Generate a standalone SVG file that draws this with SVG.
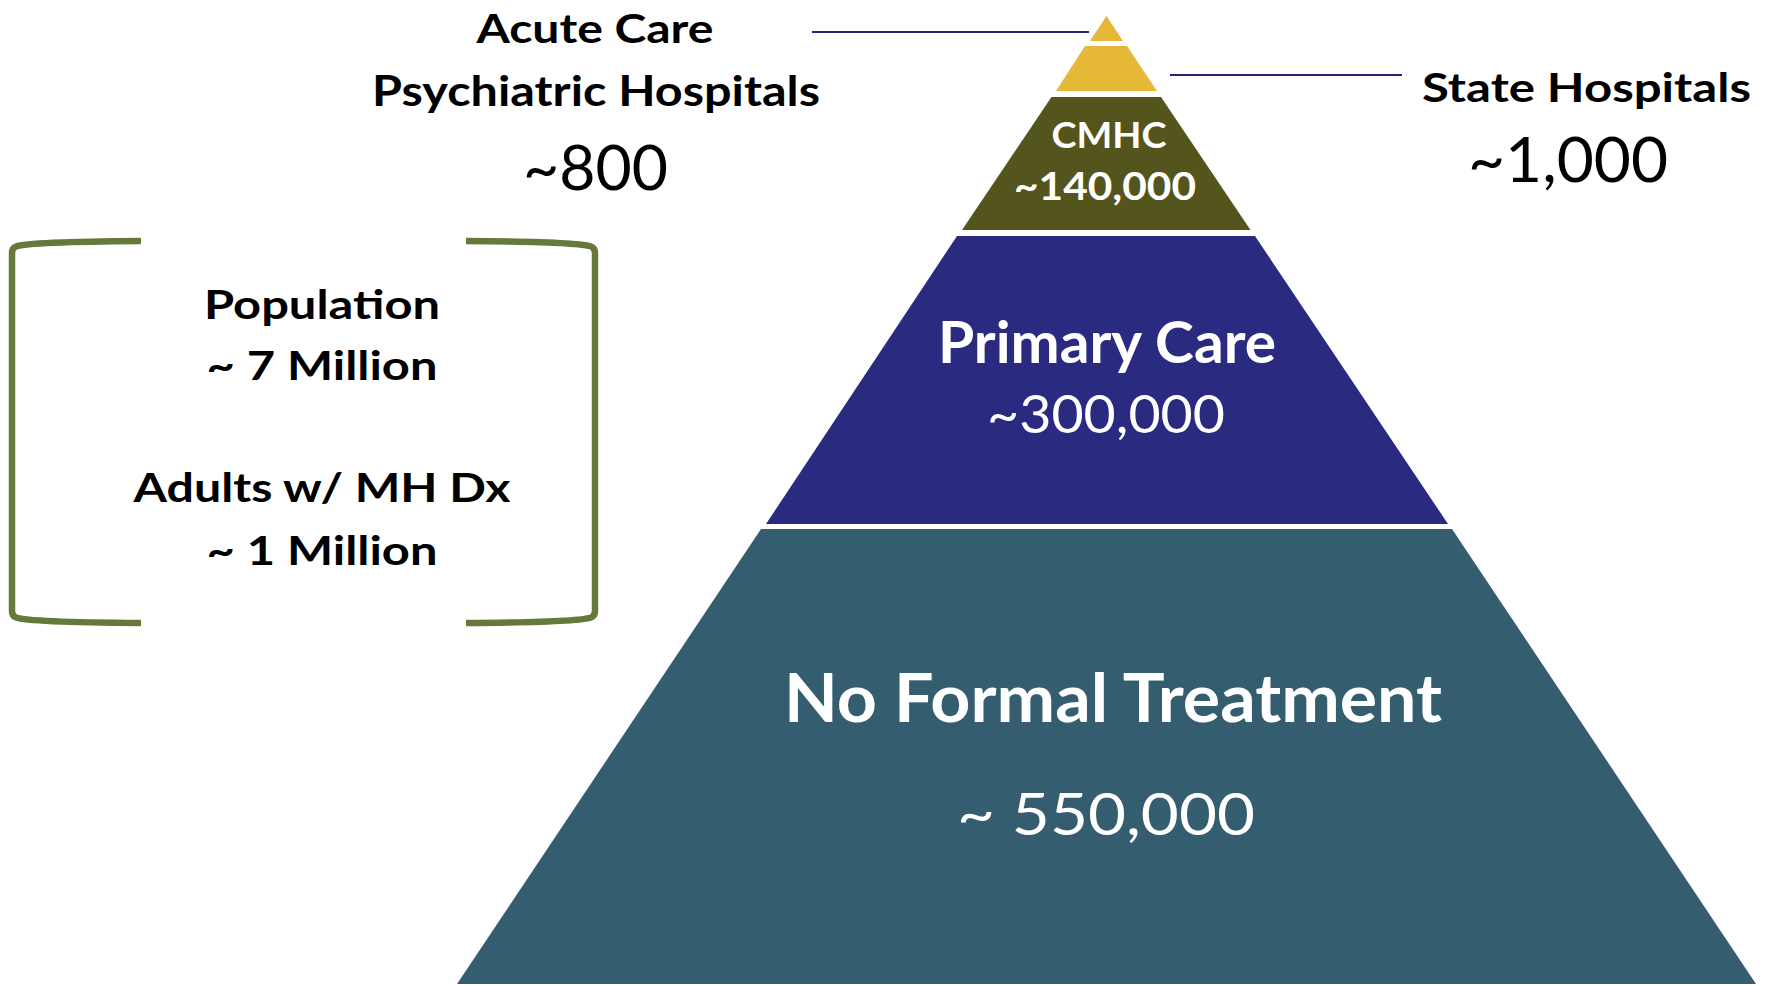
<svg xmlns="http://www.w3.org/2000/svg" width="1773" height="985" viewBox="0 0 1773 985">
  <style>
    .lbl { font-family: Lato, "Open Sans", "Liberation Sans", sans-serif; text-anchor: middle; }
    .b { font-weight: 700; }
    .r { font-weight: 400; }
    .dark { fill: #000000; }
    .light { fill: #ffffff; }
    .leader { stroke: #23237c; stroke-width: 2; fill: none; }
    .brace { stroke: #66783b; stroke-width: 6.5; fill: none; stroke-linecap: butt; stroke-linejoin: round; }
  </style>

  <rect x="0" y="0" width="1773" height="985" fill="#ffffff"/>

  <!-- pyramid tiers, top to bottom -->
  <g id="tier-acute">
    <polygon points="1106.5,16 1123,41 1090,41" fill="#e5b837"/>
  </g>
  <g id="tier-state">
    <polygon points="1085,46 1127,46 1157,91 1056,91" fill="#e5b837"/>
  </g>
  <g id="tier-cmhc">
    <polygon points="1051.5,97 1161,97 1250.5,230 962,230" fill="#54551d"/>
    <text class="lbl b light" x="1109" y="148" font-size="36" textLength="115" lengthAdjust="spacingAndGlyphs">CMHC</text>
    <text class="lbl b light" x="1105" y="200" font-size="39" textLength="182" lengthAdjust="spacingAndGlyphs">~140,000</text>
  </g>
  <g id="tier-primary">
    <polygon points="957,236 1255,236 1448,524 766,524" fill="#2a2a80"/>
    <text class="lbl b light" x="1107" y="363" font-size="57" textLength="338" lengthAdjust="spacingAndGlyphs">Primary Care</text>
    <text class="lbl r light" x="1106" y="433" font-size="52" textLength="238" lengthAdjust="spacingAndGlyphs">~300,000</text>
  </g>
  <g id="tier-none">
    <polygon points="761,529 1452,529 1756,984 457,984" fill="#345d6f"/>
    <text class="lbl b light" x="1113" y="722" font-size="67" textLength="658" lengthAdjust="spacingAndGlyphs">No Formal Treatment</text>
    <text class="lbl r light" x="1106" y="835" font-size="59" textLength="298" lengthAdjust="spacingAndGlyphs">~ 550,000</text>
  </g>

  <!-- side labels -->
  <g id="label-acute">
    <text class="lbl b dark" x="595" y="43" font-size="41" textLength="237" lengthAdjust="spacingAndGlyphs">Acute Care</text>
    <text class="lbl b dark" x="596" y="106" font-size="42" textLength="448" lengthAdjust="spacingAndGlyphs">Psychiatric Hospitals</text>
    <text class="lbl r dark" x="595.5" y="190" font-size="61" textLength="145" lengthAdjust="spacingAndGlyphs">~800</text>
  </g>
  <g id="label-state">
    <text class="lbl b dark" x="1586.5" y="102" font-size="41" textLength="329" lengthAdjust="spacingAndGlyphs">State Hospitals</text>
    <text class="lbl r dark" x="1568" y="182" font-size="61" textLength="200" lengthAdjust="spacingAndGlyphs">~1,000</text>
  </g>

  <!-- bracketed population summary -->
  <g id="population">
    <path class="brace" d="M141,241 C70,241.5 24,243.5 16,246.5 Q12,248 12,253 L12,611 Q12,616 16,617.5 C24,620.5 70,622.5 141,623"/>
    <path class="brace" d="M466,241 C537,241.5 583,243.5 591,246.5 Q595,248 595,253 L595,611 Q595,616 591,617.5 C583,620.5 537,622.5 466,623"/>
    <text class="lbl b dark" x="322" y="319" font-size="41" textLength="236" lengthAdjust="spacingAndGlyphs">Population</text>
    <text class="lbl b dark" x="322" y="380" font-size="41" textLength="231" lengthAdjust="spacingAndGlyphs">~ 7 Million</text>
    <text class="lbl b dark" x="322" y="502" font-size="41" textLength="377" lengthAdjust="spacingAndGlyphs">Adults w/ MH Dx</text>
    <text class="lbl b dark" x="322" y="565" font-size="41" textLength="231" lengthAdjust="spacingAndGlyphs">~ 1 Million</text>
  </g>

  <!-- leader lines from the labels to the tiers -->
  <g id="connectors">
    <line class="leader" x1="812" y1="32" x2="1089" y2="32"/>
    <line class="leader" x1="1170" y1="75" x2="1402" y2="75"/>
  </g>
</svg>
